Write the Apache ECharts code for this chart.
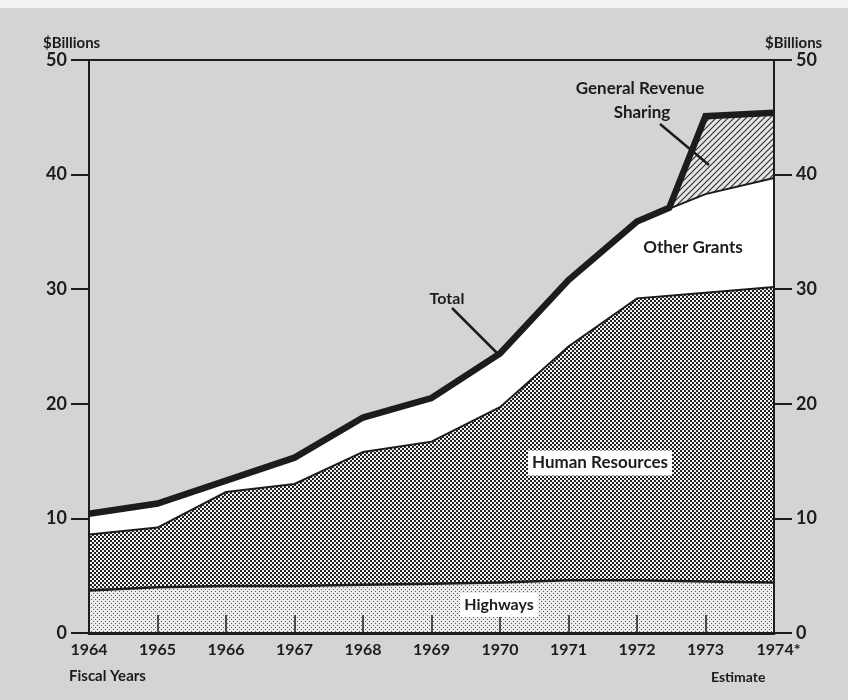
<!DOCTYPE html>
<html><head><meta charset="utf-8">
<script src="https://cdn.jsdelivr.net/npm/echarts@6/dist/echarts.min.js"></script>
<style>html,body{margin:0;padding:0;background:#d4d4d4}#c{width:848px;height:700px}</style>
</head><body><div id="c"></div>
<script>
// ---- data ----
const years = [1964, 1965, 1966, 1967, 1968, 1969, 1970, 1971, 1972, 1973, 1974];
const yearLabels = ['1964','1965','1966','1967','1968','1969','1970','1971','1972','1973','1974*'];
const highways       = [3.7, 4.0, 4.1, 4.1, 4.2, 4.3, 4.4, 4.6, 4.6, 4.5, 4.4];
const humanResources = [4.9, 5.2, 8.2, 8.9, 11.6, 12.4, 15.3, 20.4, 24.6, 25.2, 25.8];
const otherGrants    = [1.8, 2.1, 1.0, 2.3, 3.0, 3.8, 4.7, 5.8, 6.7, 8.6, 9.5];
// total outlay line (includes General Revenue Sharing from mid-1972)
const totalYears = [1964, 1965, 1966, 1967, 1968, 1969, 1970, 1971, 1972, 1972.47, 1973, 1974];
const total      = [10.4, 11.3, 13.3, 15.3, 18.8, 20.5, 24.4, 30.8, 35.9, 37.1, 45.1, 45.4];
const yTicks = [0, 10, 20, 30, 40, 50];

// ---- cumulative tops ----
const cumHigh = highways.slice();
const cumHuman = highways.map((v, i) => +(v + humanResources[i]).toFixed(2));
const cumOther = cumHuman.map((v, i) => +(v + otherGrants[i]).toFixed(2));

function pattern(size, draw) {
  const c = document.createElement('canvas');
  c.width = c.height = size;
  const ctx = c.getContext('2d');
  draw(ctx, size);
  return { image: c, repeat: 'repeat' };
}
const dotPat = pattern(4, (ctx, s) => {
  ctx.fillStyle = '#ececec'; ctx.fillRect(0, 0, s, s);
  ctx.fillStyle = '#5a5a5a'; ctx.fillRect(1, 1, 1, 1); ctx.fillRect(3, 3, 1, 1);
});
const crossPat = pattern(4, (ctx, s) => {
  ctx.fillStyle = '#222222'; ctx.fillRect(0, 0, s, s);
  ctx.fillStyle = '#f2f2f2'; ctx.fillRect(0, 0, 2, 2); ctx.fillRect(2, 2, 2, 2);
});
const hatchPat = pattern(6, (ctx, s) => {
  ctx.fillStyle = '#e6e6e6'; ctx.fillRect(0, 0, s, s);
  ctx.strokeStyle = '#333'; ctx.lineWidth = 1.2;
  ctx.beginPath();
  ctx.moveTo(-1, s + 1); ctx.lineTo(s + 1, -1);
  ctx.moveTo(-1, 1); ctx.lineTo(1, -1);
  ctx.moveTo(s - 1, s + 1); ctx.lineTo(s + 1, s - 1);
  ctx.stroke();
});

const FONT = 'Lato';
const ink = '#1c1c1c';
const chart = echarts.init(document.getElementById('c'), null, { renderer: 'canvas' });

const yAxisBase = (pos) => ({
  type: 'value', position: pos, min: 0, max: 50, interval: 10, z: 10,
  axisLine: { show: true, onZero: false, lineStyle: { color: ink, width: 2 } },
  axisTick: { show: true, length: 18, lineStyle: { color: ink, width: 2 } },
  axisLabel: { margin: 22, color: ink, fontFamily: FONT, fontWeight: 'bold', fontSize: 18,
    formatter: v => yTicks.includes(v) ? String(v) : '' },
  splitLine: { show: false }
});

const line = (name, data, area, lw, z) => ({
  name, type: 'line', data, z, symbol: 'none', silent: true, animation: false,
  lineStyle: { color: ink, width: lw, join: 'miter', cap: 'butt' },
  areaStyle: area ? { color: area, opacity: 1 } : undefined
});

chart.setOption({
  backgroundColor: '#d4d4d4',
  animation: false,
  grid: { left: 89, right: 74, top: 60, bottom: 67 },
  xAxis: [{
    type: 'value', min: 1964, max: 1974, interval: 1, z: 10,
    axisLine: { show: true, onZero: false, lineStyle: { color: ink, width: 3 } },
    axisTick: { show: true, inside: true, length: 18, lineStyle: { color: ink, width: 1.5 } },
    axisLabel: { margin: 9, color: ink, fontFamily: FONT, fontWeight: 'bold', fontSize: 16,
      formatter: v => { const i = years.indexOf(v); if (i < 0) return ''; return i === years.length - 1 ? '{e|' + yearLabels[i] + '}' : yearLabels[i]; },
      rich: { e: { padding: [0, 0, 0, 9], color: ink, fontFamily: FONT, fontWeight: 'bold', fontSize: 16 } } },
    splitLine: { show: false }
  }, {
    type: 'value', position: 'top', min: 1964, max: 1974, z: 10,
    axisLine: { show: true, onZero: false, lineStyle: { color: ink, width: 2 } },
    axisTick: { show: false }, axisLabel: { show: false }, splitLine: { show: false }
  }],
  yAxis: [yAxisBase('left'), yAxisBase('right')],
  series: [
    line('General Revenue Sharing', totalYears.map((x, i) => [x, total[i]]), hatchPat, 0, 2),
    line('Other Grants', years.map((x, i) => [x, cumOther[i]]), '#ffffff', 2, 3),
    line('Human Resources', years.map((x, i) => [x, cumHuman[i]]), crossPat, 2, 4),
    line('Highways', years.map((x, i) => [x, cumHigh[i]]), dotPat, 2.5, 5),
    line('Total', totalYears.map((x, i) => [x, total[i]]), null, 6.5, 6)
  ],
  graphic: [
    { type: 'rect', left: 0, top: 0, shape: { width: 848, height: 8 }, style: { fill: '#f3f3f3' }, z: 1 },
    { type: 'text', left: 43, top: 36, style: { text: '$Billions', font: 'bold 15px ' + FONT, fill: ink } },
    { type: 'text', left: 765, top: 36, style: { text: '$Billions', font: 'bold 15px ' + FONT, fill: ink } },
    { type: 'text', left: 69, top: 669, style: { text: 'Fiscal Years', font: 'bold 15px ' + FONT, fill: ink } },
    { type: 'text', left: 711, top: 670, style: { text: 'Estimate', font: 'bold 14px ' + FONT, fill: ink } },
    // annotations
    { type: 'text', x: 447, y: 299, z: 20, style: { text: 'Total', font: 'bold 16px ' + FONT, fill: ink, align: 'center', verticalAlign: 'middle' } },
    { type: 'line', z: 20, shape: { x1: 452, y1: 308, x2: 497, y2: 353 }, style: { stroke: ink, lineWidth: 2.5 } },
    { type: 'text', x: 693, y: 248, z: 20, style: { text: 'Other Grants', font: 'bold 17px ' + FONT, fill: ink, align: 'center', verticalAlign: 'middle' } },
    { type: 'text', x: 640, y: 89, z: 20, style: { text: 'General Revenue', font: 'bold 17px ' + FONT, fill: ink, align: 'center', verticalAlign: 'middle' } },
    { type: 'text', x: 642, y: 113, z: 20, style: { text: 'Sharing', font: 'bold 17px ' + FONT, fill: ink, align: 'center', verticalAlign: 'middle' } },
    { type: 'line', z: 20, shape: { x1: 660, y1: 124, x2: 709, y2: 165 }, style: { stroke: ink, lineWidth: 2.5 } },
    { type: 'text', x: 600, y: 463, z: 20, style: { text: 'Human Resources', font: 'bold 17px ' + FONT, fill: ink, align: 'center', verticalAlign: 'middle', backgroundColor: '#fff', padding: [4, 4, 4, 4] } },
    { type: 'text', x: 499, y: 605, z: 20, style: { text: 'Highways', font: 'bold 16px ' + FONT, fill: ink, align: 'center', verticalAlign: 'middle', backgroundColor: '#fff', padding: [4, 4, 4, 4] } }
  ]
});
</script>
</body></html>
